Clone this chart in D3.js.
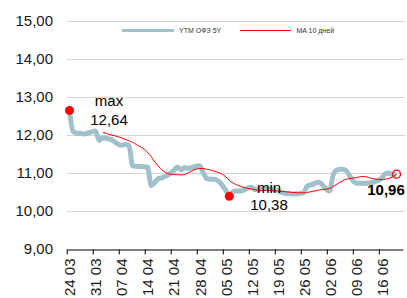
<!DOCTYPE html>
<html>
<head>
<meta charset="utf-8">
<script src="https://cdn.jsdelivr.net/npm/d3@7"></script>
<style>
  body { margin: 0; background: #fff; }
  text { font-family: "Liberation Sans", Arial, sans-serif; }
</style>
</head>
<body>
<script>
// trading days, 2014
const dates = [
  "2014-03-24","2014-03-25","2014-03-26","2014-03-27","2014-03-28",
  "2014-03-31","2014-04-01","2014-04-02","2014-04-03","2014-04-04",
  "2014-04-07","2014-04-08","2014-04-09","2014-04-10","2014-04-11",
  "2014-04-14","2014-04-15","2014-04-16","2014-04-17","2014-04-18",
  "2014-04-21","2014-04-22","2014-04-23","2014-04-24","2014-04-25",
  "2014-04-28","2014-04-29","2014-04-30","2014-05-01","2014-05-02",
  "2014-05-05","2014-05-06","2014-05-07","2014-05-08","2014-05-09",
  "2014-05-12","2014-05-13","2014-05-14","2014-05-15","2014-05-16",
  "2014-05-19","2014-05-20","2014-05-21","2014-05-22","2014-05-23",
  "2014-05-26","2014-05-27","2014-05-28","2014-05-29","2014-05-30",
  "2014-06-02","2014-06-03","2014-06-04","2014-06-05","2014-06-06",
  "2014-06-09","2014-06-10","2014-06-11","2014-06-12","2014-06-13",
  "2014-06-16","2014-06-17","2014-06-18","2014-06-19","2014-06-20"
];

// YTM OFZ 5Y
const ytm = [
  12.64, 12.08, 12.04, 12.03, 12.02,
  12.10, 11.85, 11.92, 11.90, 11.88,
  11.72, 11.74, 11.72, 11.18, 11.17,
  11.15, 10.66, 10.75, 10.85, 10.87,
  11.05, 11.15, 11.08, 11.13, 11.12,
  11.18, 11.00, 10.84, 10.83, 10.83,
  10.55, 10.38, 10.50, 10.52, 10.52,
  10.62, 10.55, 10.55, 10.58, 10.60,
  10.52, 10.48, 10.46, 10.45, 10.44,
  10.47, 10.65, 10.68, 10.72, 10.75,
  10.52, 10.95, 11.07, 11.09, 11.08,
  10.73, 10.72, 10.72, 10.72, 10.73,
  10.85, 10.98, 10.99, 10.95, 10.96
];

// MA 10 days
const ma = [
  null, null, null, null, null,
  null, null, 12.06, 12.03, 12.00,
  11.92, 11.88, 11.84, 11.80, 11.74,
  11.54, 11.42, 11.28, 11.17, 11.06,
  10.95, 10.95, 10.94, 10.95, 11.00,
  11.11, 11.11, 11.09, 11.07, 11.04,
  10.90, 10.80, 10.73, 10.68, 10.64,
  10.57, 10.55, 10.54, 10.53, 10.53,
  10.52, 10.51, 10.50, 10.49, 10.48,
  10.47, 10.48, 10.50, 10.52, 10.54,
  10.59, 10.64, 10.70, 10.76, 10.81,
  10.87, 10.89, 10.90, 10.89, 10.86,
  10.82, 10.83, 10.85, 10.89, 10.96
];

const yTicks = [9, 10, 11, 12, 13, 14, 15];
const legendLabels = ["YTM ОФЗ 5Y", "MA 10 дней"];

const W = 407, H = 298;
const parse = d3.utcParse("%Y-%m-%d");
const rows = dates.map((d, i) => ({ date: parse(d), ytm: ytm[i], ma: ma[i] }));

const x = d3.scaleUtc()
  .domain([parse("2014-03-24"), d3.utcHour.offset(parse("2014-06-22"), 12)])
  .range([66.7, 403]);
const y = d3.scaleLinear().domain([9, 15]).range([248.7, 20.7]);
const px = d => x(d3.utcHour.offset(d, 18));

const svg = d3.select("body").append("svg")
  .attr("width", W).attr("height", H);

// grid
svg.append("g").selectAll("line")
  .data(yTicks.filter(t => t > 9))
  .join("line")
  .attr("x1", 66.7).attr("x2", 405)
  .attr("y1", d => Math.round(y(d)) + 0.5).attr("y2", d => Math.round(y(d)) + 0.5)
  .attr("stroke", "#d4d4d4").attr("stroke-width", 1);

// y labels
const fmt = d => d3.format(".2f")(d).replace(".", ",");
svg.append("g").selectAll("text")
  .data(yTicks)
  .join("text")
  .attr("x", 53).attr("y", d => y(d))
  .attr("dy", "0.36em")
  .attr("text-anchor", "end")
  .attr("font-size", 15)
  .attr("fill", "#1a1a1a")
  .text(fmt);

// x axis
const xAxis = d3.axisBottom(x)
  .ticks(d3.utcMonday.every(1))
  .tickFormat(d3.utcFormat("%d %m"))
  .tickSizeInner(5).tickSizeOuter(0);
const gx = svg.append("g")
  .attr("transform", `translate(0,${Math.round(y(9)) + 0.5})`)
  .call(xAxis);
gx.select(".domain").attr("stroke", "#000");
gx.selectAll(".tick line").attr("stroke", "#000");
gx.selectAll(".tick text")
  .attr("font-size", 15)
  .attr("font-family", "Liberation Sans, Arial, sans-serif")
  .attr("fill", "#1a1a1a")
  .attr("transform", "rotate(-90)")
  .attr("text-anchor", "end")
  .attr("x", -9).attr("y", 0).attr("dy", "0.55em");

// lines
const ytmLine = d3.line()
  .x(d => px(d.date)).y(d => y(d.ytm))
  .curve(d3.curveMonotoneX);
const maLine = d3.line()
  .defined(d => d.ma != null)
  .x(d => px(d.date)).y(d => y(d.ma))
  .curve(d3.curveMonotoneX);

svg.append("path").datum(rows)
  .attr("d", ytmLine)
  .attr("fill", "none").attr("stroke", "#a0c0cb")
  .attr("stroke-width", 5).attr("stroke-linejoin", "round");
svg.append("path").datum(rows)
  .attr("d", maLine)
  .attr("fill", "none").attr("stroke", "#ff0000")
  .attr("stroke-width", 1);

// legend
const lg = svg.append("g");
lg.append("line").attr("x1", 122).attr("x2", 174).attr("y1", 30.5).attr("y2", 30.5)
  .attr("stroke", "#a0c0cb").attr("stroke-width", 3);
lg.append("text").attr("x", 179).attr("y", 30.5).attr("dy", "0.35em")
  .attr("font-size", 7).attr("fill", "#333").text(legendLabels[0]);
lg.append("line").attr("x1", 240).attr("x2", 291).attr("y1", 30.5).attr("y2", 30.5)
  .attr("stroke", "#ff0000").attr("stroke-width", 1);
lg.append("text").attr("x", 296.5).attr("y", 30.5).attr("dy", "0.35em")
  .attr("font-size", 7).attr("fill", "#333").text(legendLabels[1]);

// markers
const iMax = d3.maxIndex(ytm), iMin = d3.minIndex(ytm), iLast = ytm.length - 1;
svg.append("circle")
  .attr("cx", px(rows[iMax].date)).attr("cy", y(ytm[iMax])).attr("r", 4.5)
  .attr("fill", "#ff0000");
svg.append("circle")
  .attr("cx", px(rows[iMin].date)).attr("cy", y(ytm[iMin])).attr("r", 4.5)
  .attr("fill", "#ff0000");
svg.append("circle")
  .attr("cx", px(rows[iLast].date)).attr("cy", y(ytm[iLast])).attr("r", 4)
  .attr("fill", "none").attr("stroke", "#ff0000").attr("stroke-width", 1.3);

// annotations
const ann = svg.append("g").attr("font-size", 15).attr("fill", "#000")
  .attr("text-anchor", "middle");
ann.append("text").attr("x", 109).attr("y", 106).text("max");
ann.append("text").attr("x", 109).attr("y", 125).text(fmt(ytm[iMax]));
ann.append("text").attr("x", 269).attr("y", 192.5).text("min");
ann.append("text").attr("x", 269).attr("y", 210).text(fmt(ytm[iMin]));
ann.append("text").attr("x", 386).attr("y", 195).attr("font-weight", "bold")
  .text(fmt(ytm[iLast]));
</script>
</body>
</html>
